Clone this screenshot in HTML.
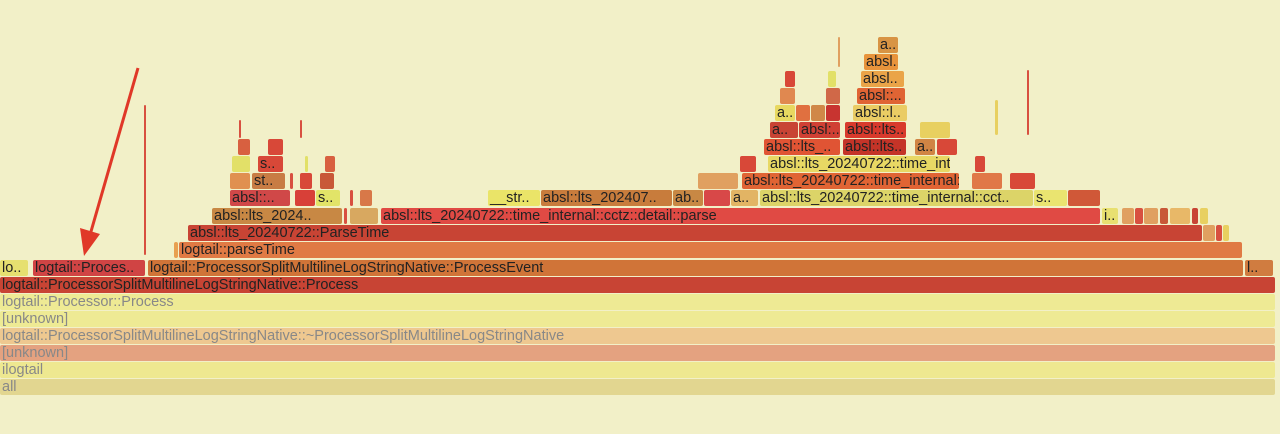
<!DOCTYPE html>
<html><head><meta charset="utf-8"><style>
body{margin:0;width:1280px;height:434px;overflow:hidden;background:#f2f0c8;position:relative}
.b{position:absolute;height:16px;border-radius:2px;font:14.5px "Liberation Sans",sans-serif;line-height:16px;padding-left:2px;box-sizing:border-box;overflow:hidden;white-space:nowrap;color:#222}
.g{color:#888}
</style></head><body>
<div class="b g" style="top:379px;left:0;width:1275px;background:#e2d690">all</div>
<div class="b g" style="top:362px;left:0;width:1275px;background:#eee890">ilogtail</div>
<div class="b g" style="top:345px;left:0;width:1275px;background:#e4a280">[unknown]</div>
<div class="b g" style="top:328px;left:0;width:1275px;background:#eec890">logtail::ProcessorSplitMultilineLogStringNative::~ProcessorSplitMultilineLogStringNative</div>
<div class="b g" style="top:311px;left:0;width:1275px;background:#eeea94">[unknown]</div>
<div class="b g" style="top:294px;left:0;width:1275px;background:#eeea94">logtail::Processor::Process</div>
<div class="b" style="top:277px;left:0;width:1275px;background:#c84434">logtail::ProcessorSplitMultilineLogStringNative::Process</div>
<div class="b" style="top:260px;left:0;width:28px;background:#e6e070">lo..</div>
<div class="b" style="top:260px;left:33px;width:112px;background:#d04444">logtail::Proces..</div>
<div class="b" style="top:260px;left:148px;width:1095px;background:#d07438">logtail::ProcessorSplitMultilineLogStringNative::ProcessEvent</div>
<div class="b" style="top:260px;left:1245px;width:28px;background:#d07c40">l..</div>
<div class="b" style="top:105px;left:144px;width:2px;height:150px;background:#d85040"></div>
<div class="b" style="top:242px;left:174px;width:4px;background:#e8a050"></div>
<div class="b" style="top:242px;left:179px;width:1063px;background:#e07a44">logtail::parseTime</div>
<div class="b" style="top:225px;left:188px;width:1014px;background:#c84434">absl::lts_20240722::ParseTime</div>
<div class="b" style="top:225px;left:1203px;width:12px;background:#e0a060"></div>
<div class="b" style="top:225px;left:1216px;width:6px;background:#d85040"></div>
<div class="b" style="top:225px;left:1223px;width:6px;background:#e8d060"></div>
<div class="b" style="top:208px;left:212px;width:130px;background:#c88844">absl::lts_2024..</div>
<div class="b" style="top:208px;left:344px;width:3px;background:#d85040"></div>
<div class="b" style="top:208px;left:350px;width:28px;background:#d8a860"></div>
<div class="b" style="top:208px;left:381px;width:719px;background:#e04a44">absl::lts_20240722::time_internal::cctz::detail::parse</div>
<div class="b" style="top:208px;left:1102px;width:16px;background:#e8e070">i..</div>
<div class="b" style="top:208px;left:1122px;width:12px;background:#e0a060"></div>
<div class="b" style="top:208px;left:1135px;width:8px;background:#d85040"></div>
<div class="b" style="top:208px;left:1144px;width:14px;background:#e0a060"></div>
<div class="b" style="top:208px;left:1160px;width:8px;background:#c85838"></div>
<div class="b" style="top:208px;left:1170px;width:20px;background:#e8b868"></div>
<div class="b" style="top:208px;left:1192px;width:6px;background:#c84434"></div>
<div class="b" style="top:208px;left:1200px;width:8px;background:#e8d060"></div>
<div class="b" style="top:190px;left:230px;width:60px;background:#d04848">absl::..</div>
<div class="b" style="top:190px;left:295px;width:20px;background:#d84038"></div>
<div class="b" style="top:190px;left:316px;width:24px;background:#e2e468">s..</div>
<div class="b" style="top:190px;left:350px;width:3px;background:#d85040"></div>
<div class="b" style="top:190px;left:360px;width:12px;background:#d87848"></div>
<div class="b" style="top:190px;left:488px;width:52px;background:#eae468">__str..</div>
<div class="b" style="top:190px;left:541px;width:131px;background:#c87c3c">absl::lts_202407..</div>
<div class="b" style="top:190px;left:673px;width:30px;background:#c88844">ab..</div>
<div class="b" style="top:190px;left:704px;width:26px;background:#d84848"></div>
<div class="b" style="top:190px;left:731px;width:27px;background:#e2b464">a..</div>
<div class="b" style="top:190px;left:760px;width:273px;background:#dcd468">absl::lts_20240722::time_internal::cct..</div>
<div class="b" style="top:190px;left:1034px;width:33px;background:#eae470">s..</div>
<div class="b" style="top:190px;left:1068px;width:32px;background:#d05838"></div>
<div class="b" style="top:173px;left:230px;width:20px;background:#e09050"></div>
<div class="b" style="top:173px;left:252px;width:33px;background:#c87c44">st..</div>
<div class="b" style="top:173px;left:290px;width:3px;background:#d85040"></div>
<div class="b" style="top:173px;left:300px;width:12px;background:#d84838"></div>
<div class="b" style="top:173px;left:320px;width:14px;background:#c85838"></div>
<div class="b" style="top:173px;left:698px;width:40px;background:#e0a060"></div>
<div class="b" style="top:173px;left:742px;width:217px;background:#e06434">absl::lts_20240722::time_internal::c..</div>
<div class="b" style="top:173px;left:972px;width:30px;background:#e07848"></div>
<div class="b" style="top:173px;left:1010px;width:25px;background:#d84838"></div>
<div class="b" style="top:156px;left:232px;width:18px;background:#e2e068"></div>
<div class="b" style="top:156px;left:258px;width:25px;background:#d84838">s..</div>
<div class="b" style="top:156px;left:305px;width:3px;background:#e2e068"></div>
<div class="b" style="top:156px;left:325px;width:10px;background:#d86040"></div>
<div class="b" style="top:156px;left:740px;width:16px;background:#d84838"></div>
<div class="b" style="top:156px;left:768px;width:182px;background:#e8d864">absl::lts_20240722::time_internal..</div>
<div class="b" style="top:156px;left:975px;width:10px;background:#d84838"></div>
<div class="b" style="top:139px;left:238px;width:12px;background:#d86040"></div>
<div class="b" style="top:139px;left:268px;width:15px;background:#d84838"></div>
<div class="b" style="top:139px;left:764px;width:76px;background:#e05434">absl::lts_..</div>
<div class="b" style="top:139px;left:843px;width:63px;background:#c43428">absl::lts..</div>
<div class="b" style="top:139px;left:915px;width:20px;background:#d08444">a..</div>
<div class="b" style="top:139px;left:937px;width:20px;background:#d84838"></div>
<div class="b" style="top:120px;left:239px;width:2px;height:18px;background:#d85040"></div>
<div class="b" style="top:120px;left:300px;width:2px;height:18px;background:#d85040"></div>
<div class="b" style="top:122px;left:770px;width:28px;background:#c84434">a..</div>
<div class="b" style="top:122px;left:799px;width:41px;background:#d04034">absl:..</div>
<div class="b" style="top:122px;left:845px;width:61px;background:#d83a2c">absl::lts..</div>
<div class="b" style="top:122px;left:920px;width:30px;background:#e8d060"></div>
<div class="b" style="top:105px;left:775px;width:20px;background:#e8d860">a..</div>
<div class="b" style="top:105px;left:796px;width:14px;background:#e07040"></div>
<div class="b" style="top:105px;left:811px;width:14px;background:#d08848"></div>
<div class="b" style="top:105px;left:826px;width:14px;background:#c83430"></div>
<div class="b" style="top:105px;left:853px;width:54px;background:#eacc64">absl::l..</div>
<div class="b" style="top:88px;left:780px;width:15px;background:#e08850"></div>
<div class="b" style="top:88px;left:826px;width:14px;background:#d06848"></div>
<div class="b" style="top:88px;left:857px;width:48px;background:#e06434">absl::..</div>
<div class="b" style="top:71px;left:785px;width:10px;background:#d84838"></div>
<div class="b" style="top:71px;left:828px;width:8px;background:#e2e068"></div>
<div class="b" style="top:71px;left:861px;width:43px;background:#eaa448">absl..</div>
<div class="b" style="top:54px;left:864px;width:34px;background:#e8943c">absl..</div>
<div class="b" style="top:37px;left:878px;width:20px;background:#d89444">a..</div>
<div class="b" style="top:37px;left:838px;width:2px;height:30px;background:#e0a060"></div>
<div class="b" style="top:70px;left:1027px;width:2px;height:65px;background:#d85040"></div>
<div class="b" style="top:100px;left:995px;width:3px;height:35px;background:#e8d060"></div>
<svg style="position:absolute;left:0;top:0" width="1280" height="434">
<line x1="138" y1="68" x2="90" y2="235" stroke="#e03828" stroke-width="3"/>
<polygon points="84,256 80,228 100,234" fill="#e03828"/>
</svg>
</body></html>
